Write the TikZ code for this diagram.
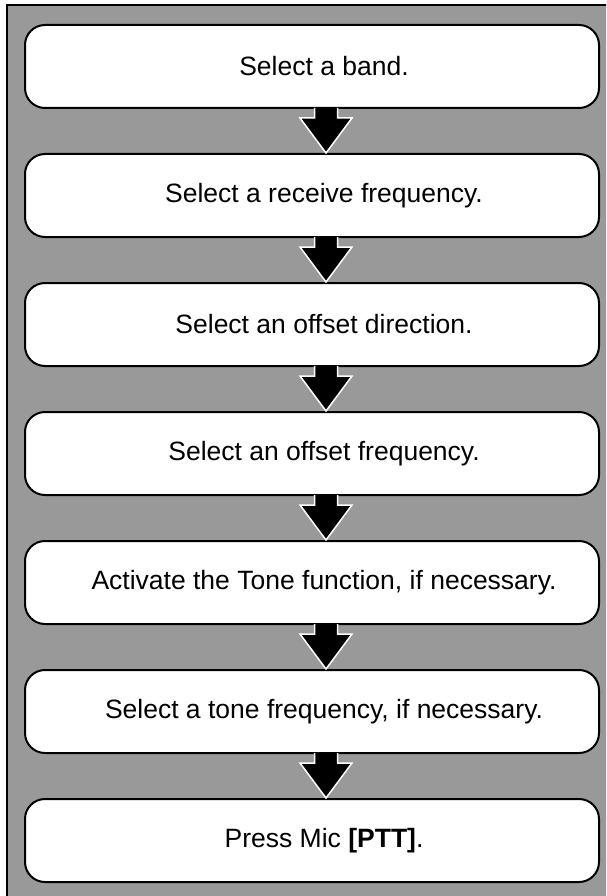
\documentclass[tikz,border=0pt]{standalone}
\usepackage{fontspec}
\setmainfont{Liberation Sans}
\usetikzlibrary{positioning}
\usetikzlibrary{calc}
\definecolor{framegray}{RGB}{153,153,153}

\tikzset{
    stepbox/.style={draw=black, line width=2pt, fill=white, rounded corners=20pt,
        minimum width=574pt, minimum height=83pt, inner sep=0pt},
    steptext/.style={font=\fontsize{26.5}{30}\selectfont, inner sep=0pt},
    flowarrow/.style={fill=black, draw=white, line width=1.5pt, line join=miter},
}

\begin{document}
\begin{tikzpicture}[x=1pt, y=-1pt]
    \clip (0,0) rectangle (606,896);
    % grey frame
    \draw[fill=framegray, draw=black, line width=2pt] (7,5) rectangle (640,930);

    % steps
    \node[stepbox] (band)   at (312,66.5) {};
    \node[stepbox, below=44pt of band]   (rxfreq) {};
    \node[stepbox, below=44pt of rxfreq] (dir)    {};
    \node[stepbox, below=44pt of dir]    (offset) {};
    \node[stepbox, below=44pt of offset] (tone)   {};
    \node[stepbox, below=44pt of tone]   (tonefreq) {};
    \node[stepbox, below=44pt of tonefreq] (ptt)  {};

    % arrows
    \foreach \a/\b in {band/rxfreq, rxfreq/dir, dir/offset, offset/tone, tone/tonefreq, tonefreq/ptt} {
        \coordinate (top) at ([xshift=14pt]\a.south);
        \coordinate (tip) at ([xshift=14pt]\b.north);
        \draw[flowarrow] ([xshift=-11.5pt, yshift=1pt]top) -- ([xshift=-11.5pt, yshift=-9pt]top)
            -- ([xshift=-26pt, yshift=-9pt]top) -- (tip)
            -- ([xshift=26pt, yshift=-9pt]top) -- ([xshift=11.5pt, yshift=-9pt]top)
            -- ([xshift=11.5pt, yshift=1pt]top);
    }

    % texts
    \node[steptext] at ([xshift=12pt]band)     {Select a band.};
    \node[steptext] at ([xshift=12pt]rxfreq)   {Select a receive frequency.};
    \node[steptext] at ([xshift=12pt]dir)      {Select an offset direction.};
    \node[steptext] at ([xshift=12pt]offset)   {Select an offset frequency.};
    \node[steptext] at ([xshift=12pt]tone)     {Activate the Tone function, if necessary.};
    \node[steptext] at ([xshift=12pt]tonefreq) {Select a tone frequency, if necessary.};
    \node[steptext] at ([xshift=12pt]ptt)      {Press Mic \textbf{[PTT]}.};
\end{tikzpicture}
\end{document}
